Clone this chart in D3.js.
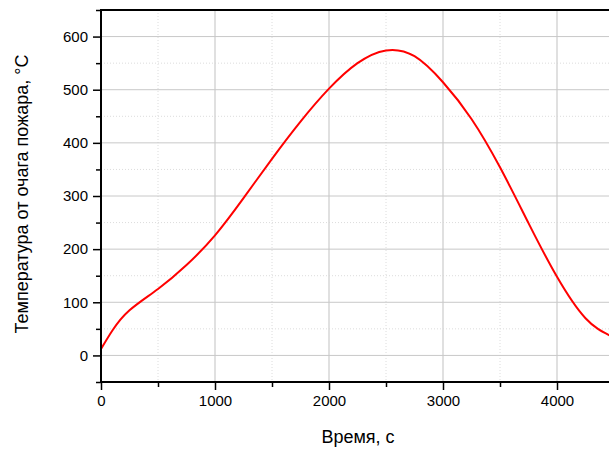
<!DOCTYPE html>
<html>
<head>
<meta charset="utf-8">
<script src="https://cdn.jsdelivr.net/npm/d3@7"></script>
<style>
  html, body { margin: 0; padding: 0; background: #fff; }
  svg { display: block; }
  text { font-family: "Liberation Sans", Arial, sans-serif; fill: #000; }
</style>
</head>
<body>
<svg id="chart" width="609" height="452"></svg>
<script>
// Data
const timeS = [0, 100, 250, 500, 750, 1000, 1250, 1500, 1750, 2000, 2250, 2500, 2750, 3000, 3250, 3500, 3750, 4000, 4250, 4460];
const tempC = [12, 47, 85, 125, 170, 226, 296, 370, 440, 502, 550, 574, 563, 514, 445, 354, 249, 148, 70, 38];
const xMajorTicks = [0, 1000, 2000, 3000, 4000];
const xMinorTicks = [500, 1500, 2500, 3500, 4500];
const yMajorTicks = [0, 100, 200, 300, 400, 500, 600];
const yMinorTicks = [-50, 50, 150, 250, 350, 450, 550, 650];
const xTitle = "Время, с";
const yTitle = "Температура от очага пожара, °C";

const svg = d3.select("#chart");
const L = 101, T = 10, R = 614, B = 382;
const x = d3.scaleLinear().domain([0, 4500]).range([L, R]);
const y = d3.scaleLinear().domain([-50, 650]).range([B, T]);

const data = timeS.map((t, i) => ({ t, v: tempC[i] }));

svg.append("defs").append("clipPath").attr("id", "clip")
  .append("rect").attr("x", L).attr("y", T).attr("width", R - L).attr("height", B - T);

const grid = svg.append("g").attr("clip-path", "url(#clip)");
// minor grid (dotted)
grid.selectAll(".xminor").data(xMinorTicks).enter().append("line")
  .attr("x1", d => x(d)).attr("x2", d => x(d)).attr("y1", T).attr("y2", B)
  .attr("stroke", "#dcdcdc").attr("stroke-width", 1).attr("stroke-dasharray", "1,2");
grid.selectAll(".yminor").data(yMinorTicks).enter().append("line")
  .attr("x1", L).attr("x2", R).attr("y1", d => y(d)).attr("y2", d => y(d))
  .attr("stroke", "#dcdcdc").attr("stroke-width", 1).attr("stroke-dasharray", "1,2");
// major grid
grid.selectAll(".xmajor").data(xMajorTicks).enter().append("line")
  .attr("x1", d => x(d)).attr("x2", d => x(d)).attr("y1", T).attr("y2", B)
  .attr("stroke", "#d6d6d6").attr("stroke-width", 1.5);
grid.selectAll(".ymajor").data(yMajorTicks).enter().append("line")
  .attr("x1", L).attr("x2", R).attr("y1", d => y(d)).attr("y2", d => y(d))
  .attr("stroke", "#c8c8c8").attr("stroke-width", 1);

// curve
const line = d3.line().x(d => x(d.t)).y(d => y(d.v)).curve(d3.curveNatural);
svg.append("path").datum(data).attr("clip-path", "url(#clip)")
  .attr("d", line).attr("fill", "none").attr("stroke", "#ff0000").attr("stroke-width", 2);

// axes
function styleAxis(g) {
  g.select(".domain").remove();
  g.selectAll("line").attr("stroke", "#000").attr("stroke-width", 1.5);
  g.selectAll("text").style("font-size", "15px").style("font-family", "Liberation Sans, Arial, sans-serif");
}
const xAxis = svg.append("g").attr("transform", `translate(0,${B})`)
  .call(d3.axisBottom(x).tickValues(xMajorTicks).tickSize(8).tickPadding(5).tickFormat(d3.format("d")));
styleAxis(xAxis);
const xMinorAxis = svg.append("g").attr("transform", `translate(0,${B})`)
  .call(d3.axisBottom(x).tickValues(xMinorTicks).tickSize(5).tickFormat(""));
styleAxis(xMinorAxis);

const yAxis = svg.append("g").attr("transform", `translate(${L},0)`)
  .call(d3.axisLeft(y).tickValues(yMajorTicks).tickSize(8).tickPadding(5).tickFormat(d3.format("d")));
styleAxis(yAxis);
const yMinorAxis = svg.append("g").attr("transform", `translate(${L},0)`)
  .call(d3.axisLeft(y).tickValues(yMinorTicks).tickSize(5).tickFormat(""));
styleAxis(yMinorAxis);

// axis lines (left, bottom, top)
svg.append("line").attr("x1", L).attr("x2", L).attr("y1", T - 1).attr("y2", B + 1)
  .attr("stroke", "#000").attr("stroke-width", 2);
svg.append("line").attr("x1", L - 1).attr("x2", R).attr("y1", B).attr("y2", B)
  .attr("stroke", "#000").attr("stroke-width", 2);
svg.append("line").attr("x1", L - 1).attr("x2", R).attr("y1", T).attr("y2", T)
  .attr("stroke", "#000").attr("stroke-width", 2);

// titles
svg.append("text").attr("x", 358).attr("y", 443).attr("text-anchor", "middle")
  .style("font-size", "18px").text(xTitle);
svg.append("text").attr("transform", "translate(28,194) rotate(-90)").attr("text-anchor", "middle")
  .style("font-size", "18px").text(yTitle);
</script>
</body>
</html>
